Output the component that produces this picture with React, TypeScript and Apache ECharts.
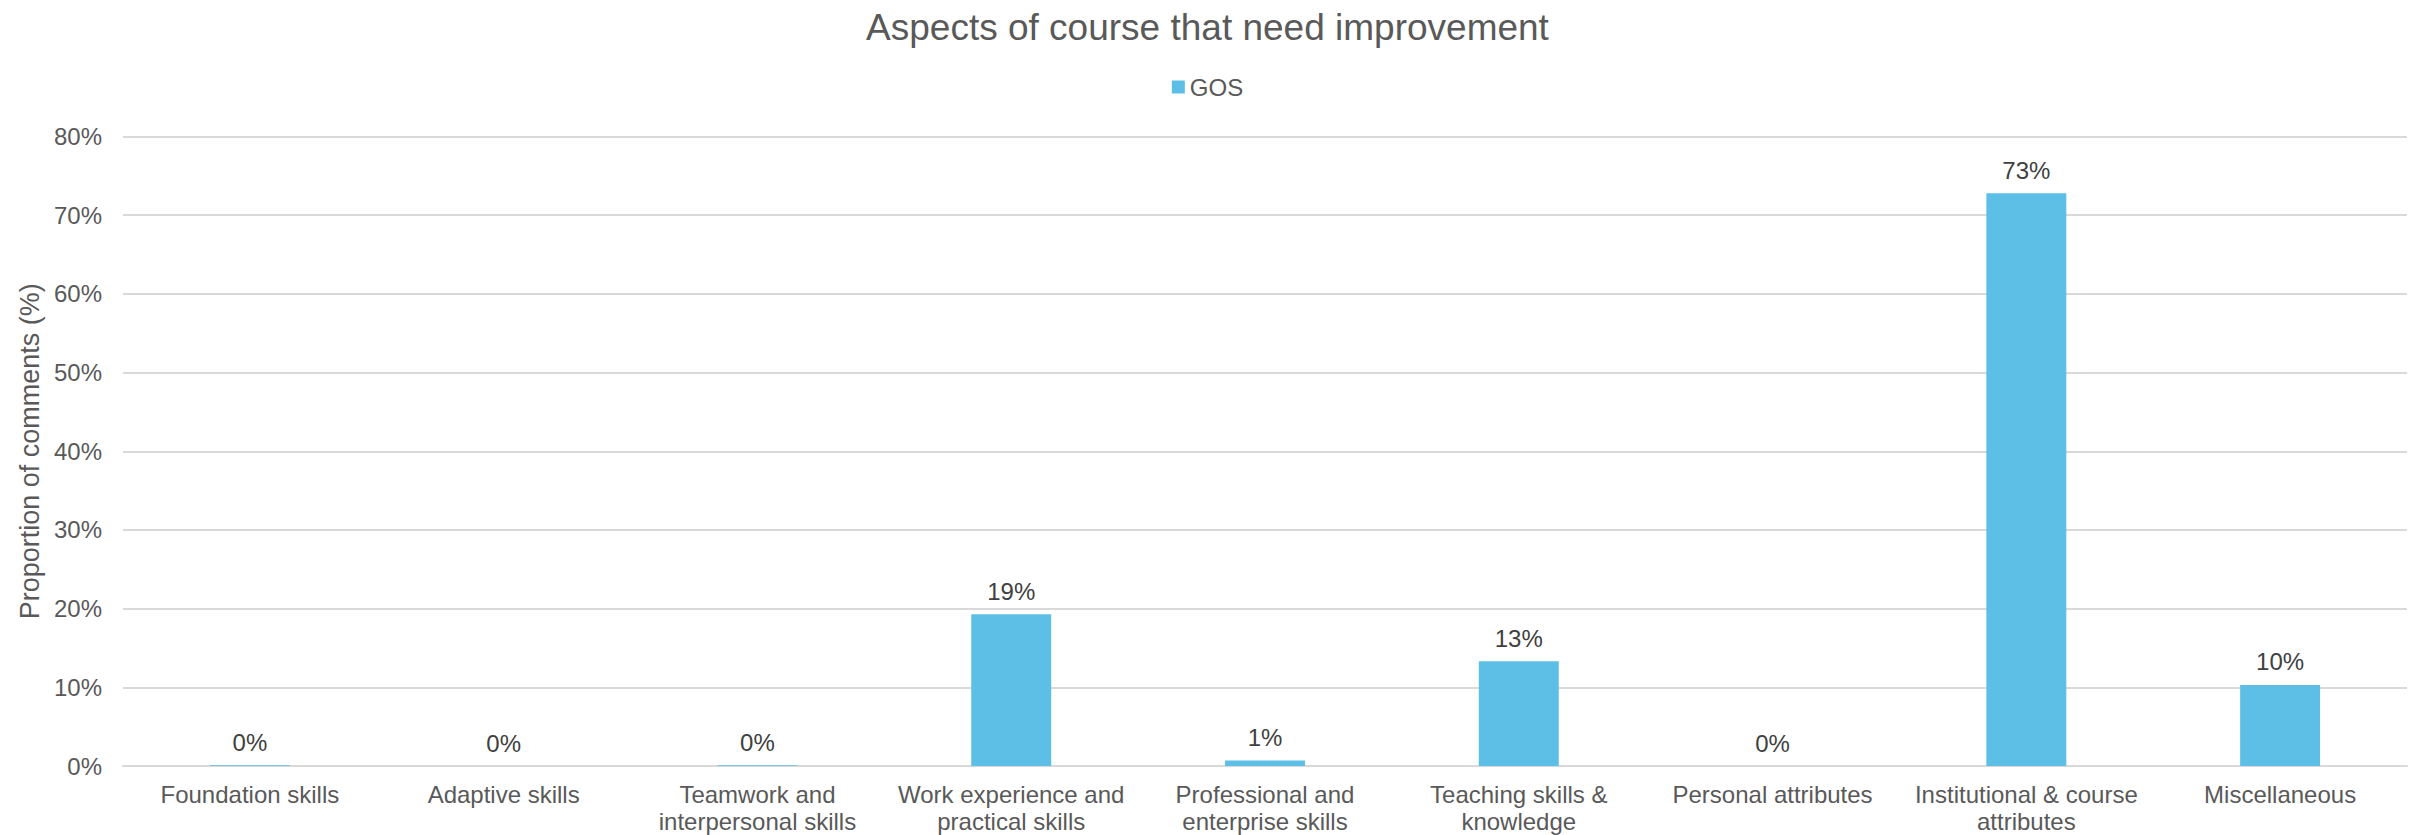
import React, { useEffect, useRef } from "react";
import * as echarts from "echarts";

const categories = [
  "Foundation skills",
  "Adaptive skills",
  "Teamwork and\ninterpersonal skills",
  "Work experience and\npractical skills",
  "Professional and\nenterprise skills",
  "Teaching skills &\nknowledge",
  "Personal attributes",
  "Institutional & course\nattributes",
  "Miscellaneous",
];
const gosValues = [0.1, 0, 0.1, 19.3, 0.7, 13.3, 0, 72.8, 10.3];
const seriesName = "GOS";
const chartTitle = "Aspects of course that need improvement";
const yAxisName = "Proportion of comments (%)";
const yMin = 0;
const yMax = 80;
const yStep = 10;

const FONT = "'Liberation Sans', Arial, sans-serif";

export default function App() {
  const ref = useRef<HTMLDivElement>(null);
  useEffect(() => {
    if (!ref.current) return;
    const chart = echarts.init(ref.current, null, { renderer: "svg" });
    chart.setOption({
      animation: false,
      backgroundColor: "#ffffff",
      textStyle: { fontFamily: FONT },
      title: {
        text: chartTitle,
        left: "center",
        top: 4,
        textStyle: { fontFamily: FONT, fontSize: 37, fontWeight: "normal", color: "#595959" },
      },
      legend: {
        data: [seriesName],
        left: "center",
        top: 70,
        icon: "rect",
        itemWidth: 13,
        itemHeight: 13,
        textStyle: { fontFamily: FONT, fontSize: 24, color: "#595959" },
      },
      grid: { left: 123, right: 8, top: 136.5, bottom: 68.5, containLabel: false },
      xAxis: {
        type: "category",
        data: categories,
        axisLine: { show: true, lineStyle: { color: "#d9d9d9", width: 2 } },
        axisTick: { show: false },
        axisLabel: {
          interval: 0,
          margin: 15,
          fontFamily: FONT,
          fontSize: 24,
          lineHeight: 27,
          color: "#595959",
        },
      },
      yAxis: {
        type: "value",
        min: yMin,
        max: yMax,
        interval: yStep,
        name: yAxisName,
        nameLocation: "middle",
        nameGap: 80,
        nameTextStyle: { fontFamily: FONT, fontSize: 27, color: "#595959" },
        axisLine: { show: false },
        axisTick: { show: false },
        axisLabel: {
          formatter: "{value}%",
          margin: 21,
          fontFamily: FONT,
          fontSize: 24,
          color: "#595959",
        },
        splitLine: { lineStyle: { color: "#d9d9d9", width: 2 } },
      },
      series: [
        {
          name: seriesName,
          type: "bar",
          data: gosValues,
          barWidth: "31.5%",
          itemStyle: { color: "#5DBFE6" },
          label: {
            show: true,
            position: "top",
            distance: 11,
            fontFamily: FONT,
            fontSize: 24,
            color: "#404040",
            formatter: (p: any) => Math.round(p.value) + "%",
          },
        },
      ],
    });
    return () => chart.dispose();
  }, []);
  return (
    <div
      ref={ref}
      style={{ position: "fixed", left: 0, top: 0, width: 2415, height: 835 }}
    />
  );
}
